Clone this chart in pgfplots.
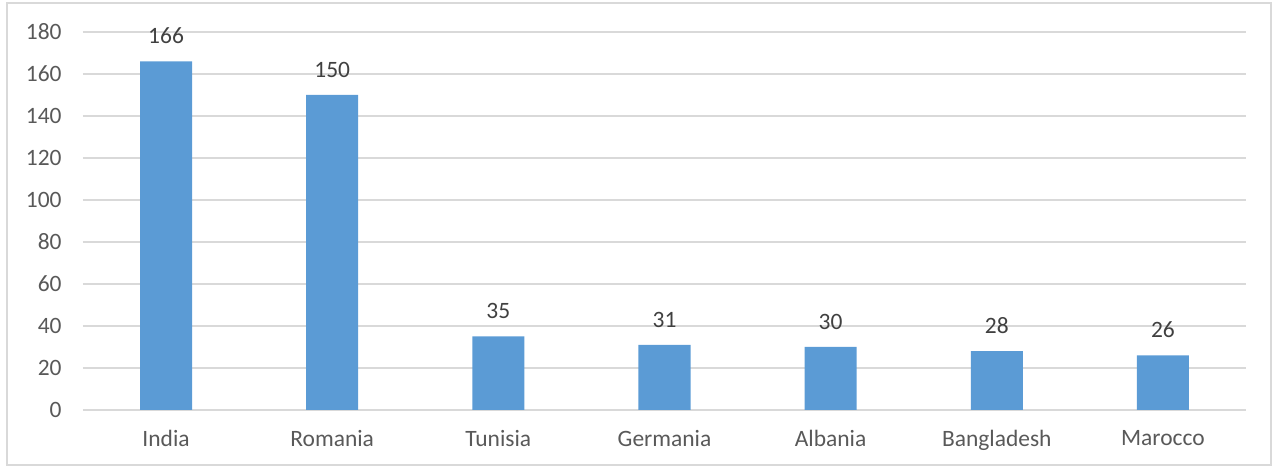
\documentclass[border=0pt]{standalone}
\usepackage{pgfplots}
\pgfplotsset{compat=1.18}
\usepackage{fontspec}
\setmainfont{Carlito}
\definecolor{barblue}{HTML}{5B9BD5}
\definecolor{gridgray}{HTML}{D9D9D9}
\definecolor{txtgray}{HTML}{595959}
\definecolor{lblgray}{HTML}{404040}
\begin{document}
\begin{tikzpicture}
\begin{axis}[
  scale only axis,
  width=872.25pt, height=283.5pt,
  xmin=-0.5, xmax=6.5, ymin=0, ymax=180,
  ytick={0,20,...,180},
  xtick=data,
  xticklabels={India,Romania,Tunisia,Germania,Albania,Bangladesh,Marocco},
  ymajorgrids, major grid style={gridgray, line width=1pt},
  axis line style={draw=none},
  major tick length=0pt,
  tick label style={font=\fontsize{17.6}{20}\selectfont, text=txtgray},
  /pgf/number format/assume math mode=true,
  yticklabel style={xshift=-12.5pt},
  xticklabel style={yshift=-11.5pt},
  nodes near coords,
  every node near coord/.append style={font=\fontsize{17.6}{20}\selectfont, text=lblgray, yshift=9.75pt},
  clip=false,
]
\draw[gridgray, line width=1pt] (axis cs:-0.5,0) -- (axis cs:6.5,0);
\addplot[ybar, bar width=39pt, fill=barblue, draw=none] coordinates {
  (0,166) (1,150) (2,35) (3,31) (4,30) (5,28) (6,26)
};
\end{axis}
\draw[gridgray, line width=1pt] (-57pt,-41.25pt) rectangle (891pt, 305.25pt);
\useasboundingbox (-62.25pt,-43.5pt) rectangle (891.75pt, 307.5pt);
\end{tikzpicture}
\end{document}
